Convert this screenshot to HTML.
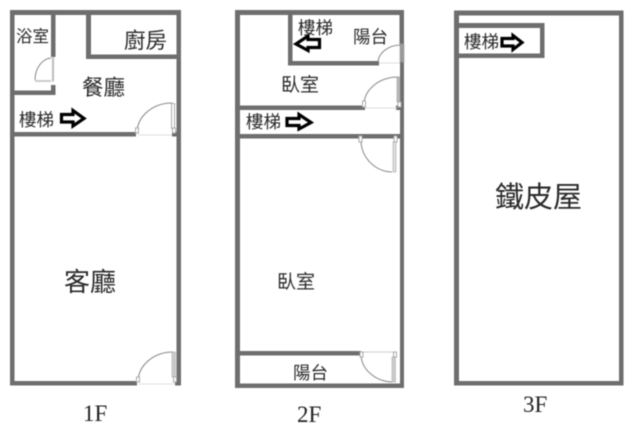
<!DOCTYPE html>
<html>
<head>
<meta charset="utf-8">
<style>
html,body{margin:0;padding:0;background:#fff;width:640px;height:427px;overflow:hidden}
svg{display:block;filter:blur(.4px)}
.c{font-family:"Liberation Sans","Noto Sans CJK TC",sans-serif;fill:#2a2a2a}
.f{font-family:"Liberation Serif",serif;fill:#222;font-size:23px}
.d{fill:none;stroke:#888;stroke-width:1}
.j{fill:#fff;stroke:#aaa;stroke-width:1}
.a{fill:#fff;stroke:#000;stroke-width:3.2;stroke-linejoin:miter}
</style>
</head>
<body>
<svg width="640" height="427" viewBox="0 0 640 427" xmlns="http://www.w3.org/2000/svg">
<g fill="#6e6e6e">
<!-- 1F -->
<rect x="10" y="10" width="171" height="5"/>
<rect x="10" y="10" width="4.5" height="375"/>
<rect x="176.500" y="10" width="4.500" height="375"/>
<rect x="10" y="381" width="127" height="4.500"/>
<rect x="175" y="381" width="6" height="4.500"/>
<rect x="51" y="10" width="4.500" height="47"/>
<rect x="51" y="85" width="4.500" height="10"/>
<rect x="10" y="90.500" width="45.500" height="4.500"/>
<rect x="86" y="10" width="5" height="49"/>
<rect x="86" y="54.500" width="92" height="4.500"/>
<rect x="10" y="132" width="126" height="4.500"/>
<rect x="172" y="132" width="6" height="4.500"/>
<!-- 2F -->
<rect x="235" y="10" width="169" height="5"/>
<rect x="235" y="10" width="5" height="378"/>
<rect x="399.500" y="10" width="4.500" height="34"/>
<rect x="400" y="62" width="4" height="326"/>
<rect x="235" y="383.500" width="169" height="4.500"/>
<rect x="235" y="351" width="126" height="4.500"/>
<rect x="235" y="105.500" width="130" height="4.500"/>
<rect x="396" y="105.500" width="6" height="4.500"/>
<rect x="235" y="134" width="169" height="4.500"/>
<rect x="288" y="10" width="4.500" height="55"/>
<rect x="288" y="61" width="91" height="4.500"/>
<!-- 3F -->
<rect x="454" y="10.500" width="169" height="5"/>
<rect x="454" y="10.500" width="5" height="375"/>
<rect x="619" y="10.500" width="4.500" height="375"/>
<rect x="454" y="381" width="169.500" height="4.500"/>
<rect x="454" y="23" width="90" height="5"/>
<rect x="540" y="23" width="4.500" height="35"/>
<rect x="454" y="53.500" width="90.500" height="4.500"/>
</g>

<!-- 1F doors -->
<path class="d" d="M52 58 A17 22 0 0 0 35 80"/>
<rect x="35" y="80" width="17" height="2" fill="#ccc"/>
<rect x="51" y="57" width="4" height="25" fill="#fff"/>
<rect x="52" y="57.500" width="2" height="24" fill="#bbb"/>
<path class="d" d="M172 103 A35 30 0 0 0 137 132"/>
<rect class="j" x="135.500" y="128" width="3" height="5"/>
<rect class="j" x="171.500" y="103.500" width="3" height="25"/>
<rect class="j" x="172.500" y="128" width="3" height="5"/>
<line x1="138" y1="135" x2="172" y2="135" stroke="#ddd"/>
<path class="d" d="M173 352 A35 30 0 0 0 138 381"/>
<rect class="j" x="136.500" y="377" width="3" height="5"/>
<rect x="172" y="352" width="3.500" height="25" fill="#ccc" stroke="#aaa" stroke-width=".6"/>
<rect class="j" x="173.500" y="377" width="3" height="5"/>
<line x1="139" y1="384" x2="174" y2="384" stroke="#ddd"/>

<!-- 2F doors -->
<path class="d" d="M400 45 A23 18 0 0 0 378 62"/>
<rect x="400" y="44" width="4" height="18" fill="#999" stroke="#999" stroke-width=".6"/>
<line x1="379" y1="63" x2="400" y2="63" stroke="#ddd"/>
<path class="d" d="M398 77 A34 28 0 0 0 364 105"/>
<rect class="j" x="362.500" y="101" width="3" height="6"/>
<rect x="397" y="77" width="3" height="25" fill="#bbb" stroke="#999" stroke-width=".6"/>
<rect class="j" x="398" y="102" width="3" height="5"/>
<line x1="366" y1="108" x2="397" y2="108" stroke="#ddd"/>
<path class="d" d="M361 139 A32 32 0 0 0 392 172"/>
<rect class="j" x="359" y="136" width="3" height="6"/>
<rect x="393" y="142" width="3" height="30" fill="#ddd" stroke="#aaa" stroke-width=".6"/>
<rect class="j" x="394" y="136" width="3" height="6"/>
<path class="d" d="M361 355 A33 28 0 0 0 392 382"/>
<line x1="361" y1="352" x2="396" y2="352" stroke="#ccc"/>
<rect class="j" x="360" y="352" width="3" height="5"/>
<rect x="392" y="357" width="3.500" height="25" fill="#ccc" stroke="#aaa" stroke-width=".6"/>
<rect class="j" x="393.500" y="352" width="3" height="5"/>

<!-- arrows -->
<path class="a" d="M61.500 114.500H73V110.500L84 118.500L73 126V122H61.500Z"/>
<path class="a" d="M287 118.500H299V114.500L311 122.500L299 129V125.500H287Z"/>
<path class="a" d="M319.500 39.500H308V36L296 44L308 50.500V47.500H319.500Z"/>
<path class="a" d="M502 38.500H513V35.500L522 42.500L513 49.500V46H502Z"/>

<!-- labels -->
<text class="c" x="16" y="42" font-size="16.500">浴室</text>
<text class="c" x="124" y="48" font-size="21.500">廚房</text>
<text class="c" x="82" y="95" font-size="21.500">餐廳</text>
<text class="c" x="19" y="126" font-size="17.500">樓梯</text>
<text class="c" x="64" y="291" font-size="26">客廳</text>
<text class="c" x="298" y="34" font-size="17.500">樓梯</text>
<text class="c" x="353" y="43" font-size="17.500">陽台</text>
<text class="c" x="281" y="91" font-size="19">臥室</text>
<text class="c" x="246" y="128" font-size="17.500">樓梯</text>
<text class="c" x="277" y="288" font-size="19">臥室</text>
<text class="c" x="293" y="379" font-size="17.500">陽台</text>
<text class="c" x="464" y="48" font-size="17.500">樓梯</text>
<text class="c" x="495" y="207" font-size="29">鐵皮屋</text>

<text class="f" x="83" y="421">1F</text>
<text class="f" x="297" y="422">2F</text>
<text class="f" x="523" y="412">3F</text>
</svg>
</body>
</html>
